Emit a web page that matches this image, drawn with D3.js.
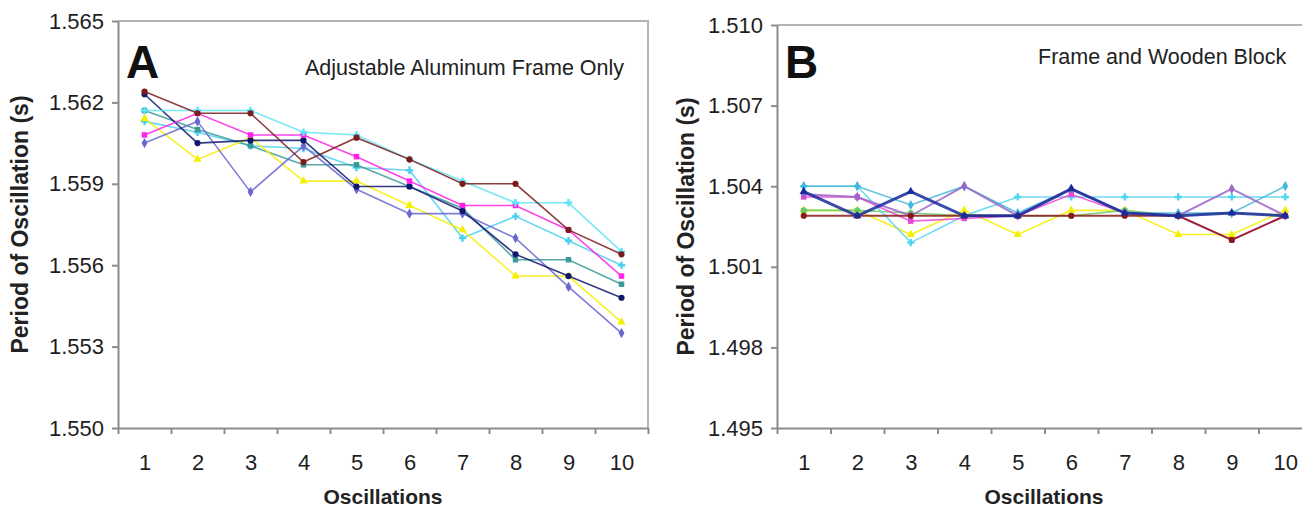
<!DOCTYPE html>
<html>
<head>
<meta charset="utf-8">
<script src="https://cdn.jsdelivr.net/npm/d3@7"></script>
<style>
  body { margin: 0; background: #fff; }
  svg { display: block; font-family: "Liberation Sans", Arial, sans-serif; }
  .axisGray path, .axisGray line { stroke: #8c8c8c; stroke-width: 2; }
  .axisGray text { fill: #1e1e1e; font-size: 22px; }
</style>
</head>
<body>
<svg id="chart"></svg>
<script>
// categories and tick labels
var oscillations = [1, 2, 3, 4, 5, 6, 7, 8, 9, 10];
var ticksA = [1.550, 1.553, 1.556, 1.559, 1.562, 1.565];
var ticksB = [1.495, 1.498, 1.501, 1.504, 1.507, 1.510];

// panel A - adjustable aluminum frame only
var frameNavy    = [1.5623, 1.5605, 1.5606, 1.5606, 1.5589, 1.5589, 1.5580, 1.5564, 1.5556, 1.5548];
var frameMagenta = [1.5608, 1.5616, 1.5608, 1.5608, 1.5600, 1.5591, 1.5582, 1.5582, 1.5573, 1.5556];
var frameYellow  = [1.5614, 1.5599, 1.5607, 1.5591, 1.5591, 1.5582, 1.5573, 1.5556, 1.5556, 1.5539];
var frameSlate   = [1.5605, 1.5613, 1.5587, 1.5604, 1.5588, 1.5579, 1.5579, 1.5570, 1.5552, 1.5535];
var frameMaroon  = [1.5624, 1.5616, 1.5616, 1.5598, 1.5607, 1.5599, 1.5590, 1.5590, 1.5573, 1.5564];
var frameCyan    = [1.5617, 1.5617, 1.5617, 1.5609, 1.5608, 1.5599, 1.5591, 1.5583, 1.5583, 1.5565];
var frameSky     = [1.5613, 1.5609, 1.5604, 1.5603, 1.5596, 1.5595, 1.5570, 1.5578, 1.5569, 1.5560];
var frameTeal    = [1.5617, 1.5610, 1.5604, 1.5597, 1.5597, 1.5589, 1.5581, 1.5562, 1.5562, 1.5553];

// panel B - frame and wooden block
var blockNavy    = [1.5038, 1.5029, 1.5038, 1.5029, 1.5029, 1.5039, 1.5030, 1.5029, 1.5030, 1.5029];
var blockSteel   = [1.5040, 1.5040, 1.5033, 1.5040, 1.5030, 1.5039, 1.5030, 1.5030, 1.5030, 1.5040];
var blockCyan    = [1.5040, 1.5040, 1.5019, 1.5029, 1.5036, 1.5036, 1.5036, 1.5036, 1.5036, 1.5036];
var blockMagenta = [1.5036, 1.5036, 1.5027, 1.5028, 1.5029, 1.5037, 1.5030, 1.5029, 1.5020, 1.5029];
var blockYellow  = [1.5031, 1.5031, 1.5022, 1.5031, 1.5022, 1.5031, 1.5031, 1.5022, 1.5022, 1.5031];
var blockMaroon  = [1.5029, 1.5029, 1.5029, 1.5029, 1.5029, 1.5029, 1.5029, 1.5029, 1.5020, 1.5029];
var blockGreen   = [1.5031, 1.5031, 1.5030, 1.5029, 1.5029, 1.5029, 1.5031, 1.5029, 1.5030, 1.5029];
var blockPurple  = [1.5037, 1.5036, 1.5029, 1.5040, 1.5029, 1.5039, 1.5030, 1.5029, 1.5039, 1.5029];

var seriesA = [
  {values: frameSky,     color: "#4cd0f0", symbol: d3.symbolCross,    width: 1.6},
  {values: frameTeal,    color: "#3a9a9a", symbol: d3.symbolSquare,   width: 1.6},
  {values: frameYellow,  color: "#f4f000", symbol: d3.symbolTriangle, width: 1.6},
  {values: frameSlate,   color: "#6a66d0", symbol: d3.symbolDiamond,  width: 1.6},
  {values: frameNavy,    color: "#10186e", symbol: d3.symbolCircle,   width: 1.6},
  {values: frameMagenta, color: "#ff22e8", symbol: d3.symbolSquare,   width: 1.6},
  {values: frameCyan,    color: "#60e4f4", symbol: d3.symbolCross,    width: 1.6},
  {values: frameMaroon,  color: "#7a1c1c", symbol: d3.symbolCircle,   width: 1.6}
];

var seriesB = [
  {values: blockYellow,  color: "#f4f000", symbol: d3.symbolTriangle, width: 1.6},
  {values: blockGreen,   color: "#66cc66", symbol: d3.symbolCircle,   width: 1.6},
  {values: blockCyan,    color: "#55d4f0", symbol: d3.symbolCross,    width: 1.6},
  {values: blockSteel,   color: "#45b8d8", symbol: d3.symbolDiamond,  width: 1.6},
  {values: blockMagenta, color: "#ee44d8", symbol: d3.symbolSquare,   width: 1.6},
  {values: blockPurple,  color: "#9a66c8", symbol: d3.symbolDiamond,  width: 2},
  {values: blockMaroon,  color: "#8a1a1a", symbol: d3.symbolCircle,   width: 2},
  {values: blockNavy,    color: "#1a2c9c", symbol: d3.symbolTriangle, width: 3}
];

var svg = d3.select("#chart")
    .attr("width", 1302)
    .attr("height", 510);

function drawPanel(opt) {
  var x = d3.scaleLinear().domain([0.5, 10.5]).range([opt.left, opt.right]);
  var y = d3.scaleLinear().domain([opt.ticks[0], opt.ticks[opt.ticks.length - 1]]).range([opt.bottom, opt.top]);

  var g = svg.append("g");

  // plot area border (top and right)
  g.append("path")
      .attr("d", "M" + opt.left + "," + opt.top + "H" + opt.right + "V" + opt.bottom)
      .attr("fill", "none")
      .attr("stroke", "#b4b4b4")
      .attr("stroke-width", 2);

  // x axis ticks between categories
  g.append("g")
      .attr("class", "axisGray")
      .attr("transform", "translate(0," + opt.bottom + ")")
      .call(d3.axisBottom(x)
        .tickValues(d3.range(0.5, 11, 1))
        .tickSize(6)
        .tickSizeOuter(0)
        .tickFormat(""));

  // x labels at category centres
  g.append("g")
      .attr("class", "axisGray")
      .attr("transform", "translate(0," + opt.bottom + ")")
      .call(d3.axisBottom(x)
        .tickValues(oscillations)
        .tickSize(0)
        .tickPadding(26)
        .tickFormat(d3.format("d")))
      .select(".domain").remove();

  // y axis
  g.append("g")
      .attr("class", "axisGray")
      .attr("transform", "translate(" + opt.left + ",0)")
      .call(d3.axisLeft(y)
        .tickValues(opt.ticks)
        .tickSize(6)
        .tickSizeOuter(0)
        .tickPadding(8)
        .tickFormat(d3.format(".3f")));

  var line = d3.line()
      .x(function(d, i) { return x(oscillations[i]); })
      .y(function(d) { return y(d); });

  opt.series.forEach(function(s) {
    g.append("path")
        .datum(s.values)
        .attr("d", line)
        .attr("fill", "none")
        .attr("stroke", s.color)
        .attr("stroke-width", s.width)
        .attr("stroke-opacity", 0.85);

    g.selectAll(null)
        .data(s.values)
      .enter().append("path")
        .attr("transform", function(d, i) { return "translate(" + x(oscillations[i]) + "," + y(d) + ")"; })
        .attr("d", d3.symbol().type(s.symbol).size(30))
        .attr("fill", s.color);
  });

  // panel letter and caption
  g.append("text")
      .attr("x", opt.left + 8)
      .attr("y", 78)
      .attr("font-size", 46)
      .attr("font-weight", "bold")
      .attr("fill", "#111")
      .text(opt.letter);

  g.append("text")
      .attr("x", opt.captionX)
      .attr("y", opt.captionY)
      .attr("font-size", 21.5)
      .attr("fill", "#222")
      .text(opt.caption);

  // axis titles
  g.append("text")
      .attr("x", opt.titleMid)
      .attr("y", 504)
      .attr("text-anchor", "middle")
      .attr("font-size", 21)
      .attr("font-weight", "bold")
      .attr("fill", "#222")
      .text("Oscillations");

  g.append("text")
      .attr("transform", "translate(" + opt.titleX + "," + (opt.top + opt.bottom) / 2 + ") rotate(-90)")
      .attr("text-anchor", "middle")
      .attr("font-size", 23)
      .attr("font-weight", "bold")
      .attr("fill", "#222")
      .text("Period of Oscillation (s)");
}

drawPanel({
  left: 118, right: 648, top: 21, bottom: 428,
  ticks: ticksA, series: seriesA,
  letter: "A", caption: "Adjustable Aluminum Frame Only",
  captionX: 305, captionY: 75, titleX: 28, titleMid: 383
});

drawPanel({
  left: 777, right: 1312, top: 25, bottom: 428,
  ticks: ticksB, series: seriesB,
  letter: "B", caption: "Frame and Wooden Block",
  captionX: 1038, captionY: 64, titleX: 694, titleMid: 1044
});
</script>
</body>
</html>
